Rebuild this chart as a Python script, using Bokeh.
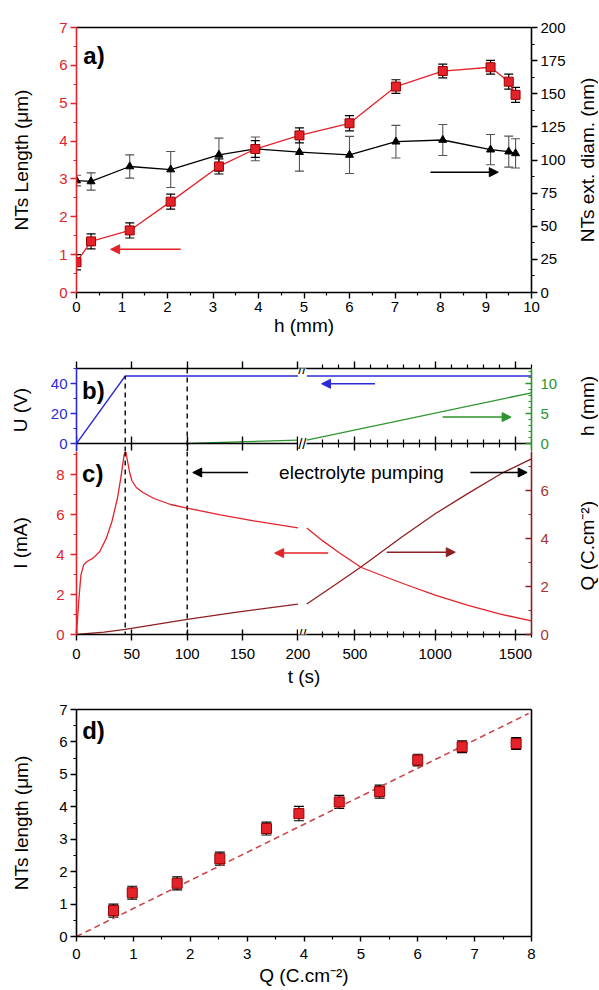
import math
from bokeh.plotting import figure
from bokeh.models import (Range1d, LinearAxis, FixedTicker, Whisker, TeeHead,
                          Arrow, NormalHead, Label, Span, ColumnDataSource,
                          CustomJSTickFormatter)
from bokeh.layouts import column, row
from bokeh.embed import file_html
from bokeh.resources import INLINE

FONT = "Liberation Sans"
RED = "#E3222A"
DARKRED = "#8E1F22"
BLUE = "#2B2BD6"
GREEN = "#2E952E"
GREY = "#555555"
FITRED = "#C9484C"

# ---------------- panel a) ----------------
h_mm = [0.0, 0.32, 1.17, 2.07, 3.13, 3.93, 4.9, 6.0, 7.02, 8.05, 9.1, 9.5, 9.65]
length_um = [0.80, 1.35, 1.64, 2.40, 3.33, 3.79, 4.15, 4.47, 5.44, 5.85, 5.95, 5.57, 5.22]
length_err = [0.2, 0.2, 0.2, 0.2, 0.2, 0.22, 0.2, 0.2, 0.18, 0.18, 0.18, 0.2, 0.2]
diam_nm = [84.5, 83.8, 95.1, 92.8, 103.9, 108.4, 105.9, 103.8, 113.8, 115.1, 107.8, 106.3, 105.0]
diam_err = [4.0, 6.5, 8.8, 13.6, 12.6, 9.0, 14.3, 14.0, 12.3, 11.7, 11.4, 11.7, 11.0]

# ---------------- panels b) and c) ----------------
t_U = [0, 44, 200, 1600]
U_V = [0, 45, 45, 45]
t_h = [100, 200, 1600]
h_level = [0.0, 0.56, 8.45]
t_I = [0, 2, 4, 6.5, 9.5, 15, 21, 27, 32, 37, 40, 43, 44.5, 46, 48, 50, 54, 60,
       70, 85, 100, 130, 160, 200, 300, 400, 540, 700, 850, 1000, 1200, 1400, 1600]
I_mA = [0, 1.65, 2.98, 3.48, 3.65, 3.82, 4.15, 4.82, 5.65, 6.82, 7.82, 8.98, 9.15,
        8.7, 8.1, 7.7, 7.35, 7.1, 6.8, 6.5, 6.32, 5.98, 5.68, 5.33, 4.68, 4.1,
        3.35, 2.85, 2.4, 1.97, 1.47, 1.03, 0.68]
t_Q = [0, 25, 44, 100, 145, 200, 400, 540, 790, 1000, 1200, 1410, 1600]
Q_C = [0, 0.1, 0.21, 0.63, 0.93, 1.27, 2.18, 2.82, 4.05, 5.03, 5.86, 6.7, 7.32]
t_ramp = 44
t_pump = 100
t_major = [0, 50, 100, 150, 200, 500, 1000, 1500]
t_minor = [300, 400, 600, 700, 800, 900, 1100, 1200, 1300, 1400, 1600]

# ---------------- panel d) ----------------
Q_charge = [0.65, 0.98, 1.77, 2.52, 3.34, 3.91, 4.62, 5.33, 6.0, 6.78, 7.73]
length_d = length_um[:11]
length_d_err = length_err[:11]
fit_slope = 0.865
fit_Q = [0, 7.95]

# ---------------- broken time axis ----------------
BREAK_T = 200
GAP = 8
K = 0.145

W = 598          # full width
LW = 23          # width of the strip holding right-hand axis titles
BL = 76
FR = 531         # right edge of every plot frame


def tx(t, side=None):
    if side == "left" or (side is None and t <= BREAK_T):
        return t
    return BREAK_T + GAP + (t - BREAK_T) * K


def split(ts, ys):
    left = [(tx(t, "left"), y) for t, y in zip(ts, ys) if t <= BREAK_T]
    right = [(tx(t, "right"), y) for t, y in zip(ts, ys) if t >= BREAK_T]
    xs, yv = [], []
    for part in (left, right):
        if len(part) > 1:
            xs.append([a for a, _ in part])
            yv.append([b for _, b in part])
    return xs, yv


def style(ax, color="black", tin=0, tout=6, mtin=0, mtout=3, lab_color=None,
          lab_size="15px", standoff=3, label=None, label_standoff=0,
          ticks=None, minor=None, hide_labels=False):
    ax.axis_line_color = color
    ax.axis_line_width = 1.6
    ax.major_tick_line_color = color
    ax.minor_tick_line_color = color
    ax.major_tick_line_width = 1.4
    ax.minor_tick_line_width = 1.2
    ax.major_tick_in = tin
    ax.major_tick_out = tout
    ax.minor_tick_in = mtin
    ax.minor_tick_out = mtout
    ax.major_label_text_font = FONT
    if hide_labels:
        ax.major_label_text_color = None
        ax.major_label_text_font_size = "1px"
        ax.major_label_standoff = 0
        ax.formatter = CustomJSTickFormatter(code="return '';")
    else:
        ax.major_label_text_color = lab_color or color
        ax.major_label_text_font_size = lab_size
        ax.major_label_standoff = standoff
    if label is not None:
        ax.axis_label = label
        ax.axis_label_text_font = FONT
        ax.axis_label_text_font_size = "19px"
        ax.axis_label_text_font_style = "normal"
        ax.axis_label_text_color = "black"
        ax.axis_label_standoff = label_standoff
    if ticks is not None:
        ax.ticker = FixedTicker(ticks=list(ticks), minor_ticks=list(minor or []))


def make_fig(h, xr, yr, top, bottom, width=W - LW, **kw):
    p = figure(width=width, height=h, x_range=xr, y_range=yr,
               output_backend="svg", toolbar_location=None,
               min_border_left=BL, min_border_right=width - FR,
               min_border_top=top, min_border_bottom=bottom, **kw)
    p.grid.visible = False
    p.outline_line_color = None
    p.background_fill_color = "white"
    p.border_fill_color = "white"
    return p


def title_strip(h, top, bottom, yr, y, text):
    """Narrow companion figure carrying a right-hand axis title (reads upward)."""
    f = figure(width=LW, height=h, x_range=Range1d(0, 1), y_range=yr,
               output_backend="svg", toolbar_location=None,
               x_axis_location=None, y_axis_location=None,
               min_border_left=0, min_border_right=0,
               min_border_top=top, min_border_bottom=bottom)
    f.outline_line_color = None
    f.grid.visible = False
    f.add_layout(Label(x=0.5, y=y, text=text, text_font=FONT, text_font_size="19px",
                       angle=math.pi / 2, text_align="center", text_baseline="middle",
                       text_color="black"))
    return f


def panel_label(p, x, y, text, **kw):
    p.add_layout(Label(x=x, y=y, text=text, text_font=FONT, text_font_size="24px",
                       text_font_style="bold", text_baseline="top",
                       text_color="black", **kw))


def arrow(p, x0, y0, x1, y1, color, **kw):
    p.add_layout(Arrow(end=NormalHead(size=9, fill_color=color, line_color=color),
                       x_start=x0, y_start=y0, x_end=x1, y_end=y1,
                       line_color=color, line_width=1.5, **kw))


def break_mark(p, y, **kw):
    p.add_layout(Label(x=BREAK_T + GAP / 2, y=y, text="//", text_align="center",
                       text_baseline="middle", text_font=FONT, text_font_size="15px",
                       text_color="black", background_fill_color="white", **kw))


# ================= figure a =================
pa = make_fig(340, Range1d(0, 10), Range1d(0, 7), 27, 48)
pa.extra_y_ranges = {"diam": Range1d(0, 200)}
style(pa.xaxis[0], tout=6, mtout=3, standoff=3, label="h (mm)",
      ticks=range(11), minor=[i + 0.5 for i in range(10)])
style(pa.yaxis[0], color=RED, label="NTs Length (μm)", label_standoff=24,
      ticks=range(8), minor=[i + 0.5 for i in range(7)])
ax = LinearAxis(y_range_name="diam")
style(ax, ticks=range(0, 201, 25), minor=[12.5 + 25 * i for i in range(8)])
pa.add_layout(ax, "right")
ax = LinearAxis()
style(ax, tout=0, mtout=0, hide_labels=True, ticks=[])
pa.add_layout(ax, "above")
la = title_strip(340, 27, 48, Range1d(0, 200), 100, "NTs ext. diam. (nm)")

src_a = ColumnDataSource(dict(
    h=h_mm, L=length_um,
    Lu=[v + e for v, e in zip(length_um, length_err)],
    Ll=[v - e for v, e in zip(length_um, length_err)],
    D=diam_nm,
    Du=[v + e for v, e in zip(diam_nm, diam_err)],
    Dl=[v - e for v, e in zip(diam_nm, diam_err)]))

pa.line("h", "D", source=src_a, y_range_name="diam", color="black", line_width=1.3)
pa.add_layout(Whisker(source=src_a, base="h", upper="Du", lower="Dl", y_range_name="diam",
                      line_color=GREY, line_width=1.1,
                      upper_head=TeeHead(size=9, line_color=GREY, line_width=1.1),
                      lower_head=TeeHead(size=9, line_color=GREY, line_width=1.1)))
pa.scatter("h", "D", source=src_a, y_range_name="diam", marker="triangle", size=8,
           color="black")
pa.line("h", "L", source=src_a, color=RED, line_width=1.3)
pa.scatter("h", "L", source=src_a, marker="square", size=9, fill_color=RED,
           line_color="#9A0000")
pa.add_layout(Whisker(source=src_a, base="h", upper="Lu", lower="Ll",
                      line_color="black", line_width=1.2,
                      upper_head=TeeHead(size=9, line_color="black", line_width=1.2),
                      lower_head=TeeHead(size=9, line_color="black", line_width=1.2)))
arrow(pa, 2.29, 1.14, 0.75, 1.14, RED)
arrow(pa, 7.78, 90.8, 9.27, 90.8, "black", y_range_name="diam")
panel_label(pa, 0.15, 6.62, "a)")

# ================= figure b =================
XMAX = tx(1600)
XR = Range1d(0, XMAX)
tick_major = [tx(t, "left") if t <= BREAK_T else tx(t) for t in t_major]
tick_minor = [tx(t) for t in t_minor]
fmt = CustomJSTickFormatter(code="""
    if (tick <= %d) { return tick.toFixed(0); }
    return ((tick - %f) / %f + %d).toFixed(0);
""" % (BREAK_T + GAP / 2, BREAK_T + GAP, K, BREAK_T))

U_lo = -50 * 8 / 75
h_lo = -12.5 * 8 / 75
pb = make_fig(111, XR, Range1d(U_lo, 50), 28, 0, x_axis_location="above")
pb.extra_y_ranges = {"h": Range1d(h_lo, 12.5)}
style(pb.yaxis[0], color=BLUE, label="U (V)", label_standoff=17, standoff=3,
      ticks=[0, 20, 40], minor=[10, 30, 50])
ax = LinearAxis(y_range_name="h")
style(ax, color=GREEN, tin=6, tout=0, mtin=3, mtout=0, standoff=9,
      ticks=[0, 5, 10], minor=[1, 2, 3, 4, 6, 7, 8, 9, 11, 12])
pb.add_layout(ax, "right")
style(pb.xaxis[0], tin=0, tout=7, mtin=0, mtout=4, hide_labels=True,
      ticks=tick_major, minor=tick_minor)
ax = LinearAxis(fixed_location=0)
style(ax, tin=7, tout=7, mtin=4, mtout=4, hide_labels=True,
      ticks=tick_major, minor=tick_minor)
pb.add_layout(ax, "above")
lb = title_strip(111, 28, 0, Range1d(h_lo, 12.5), 6.25, "h (mm)")

xs, ys = split(t_U, U_V)
pb.multi_line(xs, ys, color=BLUE, line_width=1.3)
xs, ys = split(t_h, h_level)
pb.multi_line(xs, ys, color=GREEN, line_width=1.3, y_range_name="h")
pb.segment(x0=[t_ramp], y0=[U_lo], x1=[t_ramp], y1=[U_V[1]], color="black",
           line_width=1.4, line_dash="5 4")
pb.add_layout(Span(location=t_pump, dimension="height", line_color="black",
                   line_width=1.4, line_dash="5 4"))
arrow(pb, tx(625), 39.8, tx(292), 39.8, BLUE)
arrow(pb, tx(1046), 4.4, tx(1473), 4.4, GREEN, y_range_name="h")
panel_label(pb, 5, 44.5, "b)")
break_mark(pb, 50)
break_mark(pb, 0)

# ================= figure c =================
pc = make_fig(239, XR, Range1d(0, 9.15), 0, 56)
pc.extra_y_ranges = {"q": Range1d(0, 7.625)}
style(pc.yaxis[0], color=RED, label="I (mA)", label_standoff=22, standoff=6,
      ticks=[0, 2, 4, 6, 8], minor=[1, 3, 5, 7, 9])
ax = LinearAxis(y_range_name="q")
style(ax, color=DARKRED, lab_color="#A8342E", tin=6, tout=0, mtin=3, mtout=0,
      standoff=9, ticks=[0, 2, 4, 6], minor=[1, 3, 5, 7])
pc.add_layout(ax, "right")
style(pc.xaxis[0], tin=5, tout=6, mtin=3, mtout=3, standoff=8, label="t (s)",
      label_standoff=4, ticks=tick_major, minor=tick_minor)
pc.xaxis[0].formatter = fmt
lc = title_strip(239, 0, 56, Range1d(0, 7.625), 3.7, "Q (C.cm⁻²)")

xs, ys = split(t_Q, Q_C)
pc.multi_line(xs, ys, color=DARKRED, line_width=1.3, y_range_name="q")
xs, ys = split(t_I, I_mA)
pc.multi_line(xs, ys, color=RED, line_width=1.3)
for tt in (t_ramp, t_pump):
    pc.add_layout(Span(location=tt, dimension="height", line_color="black",
                       line_width=1.4, line_dash="5 4"))
arrow(pc, tx(155), 8.1, tx(105), 8.1, "black")
arrow(pc, tx(1219), 8.1, tx(1573), 8.1, "black")
arrow(pc, tx(333), 4.07, tx(179), 4.07, RED)
arrow(pc, tx(698), 3.43, tx(1125), 3.43, DARKRED, y_range_name="q")
pc.add_layout(Label(x=tx(183), y=8.1, text="electrolyte pumping", text_font=FONT,
                    text_font_size="19px", text_baseline="middle",
                    text_color="black"))
panel_label(pc, 5, 8.75, "c)")
break_mark(pc, 0)

# ================= figure d =================
pd = make_fig(299, Range1d(0, 8), Range1d(0, 7), 19, 53, width=W)
style(pd.xaxis[0], tout=5, mtout=3, standoff=7, label="Q (C.cm⁻²)", label_standoff=3,
      ticks=range(9), minor=[i + 0.5 for i in range(8)])
style(pd.yaxis[0], label="NTs length (μm)", label_standoff=24, standoff=3,
      ticks=range(8), minor=[i + 0.5 for i in range(7)])
for side in ("above", "right"):
    ax = LinearAxis()
    style(ax, tout=0, mtout=0, hide_labels=True, ticks=[])
    pd.add_layout(ax, side)

src_d = ColumnDataSource(dict(
    Q=Q_charge, L=length_d,
    Lu=[v + e for v, e in zip(length_d, length_d_err)],
    Ll=[v - e for v, e in zip(length_d, length_d_err)]))
pd.line(fit_Q, [fit_slope * q for q in fit_Q], color=FITRED, line_width=1.6,
        line_dash="6 4")
pd.scatter("Q", "L", source=src_d, marker="square", size=10, fill_color=RED,
           line_color="#9A0000")
pd.add_layout(Whisker(source=src_d, base="Q", upper="Lu", lower="Ll",
                      line_color="black", line_width=1.2,
                      upper_head=TeeHead(size=10, line_color="black", line_width=1.2),
                      lower_head=TeeHead(size=10, line_color="black", line_width=1.2)))
panel_label(pd, 0.1, 6.78, "d)")

layout = column(row(pa, la, spacing=0), row(pb, lb, spacing=0),
                row(pc, lc, spacing=0), pd, spacing=0)
open("out.html", "w").write(file_html(layout, INLINE))
